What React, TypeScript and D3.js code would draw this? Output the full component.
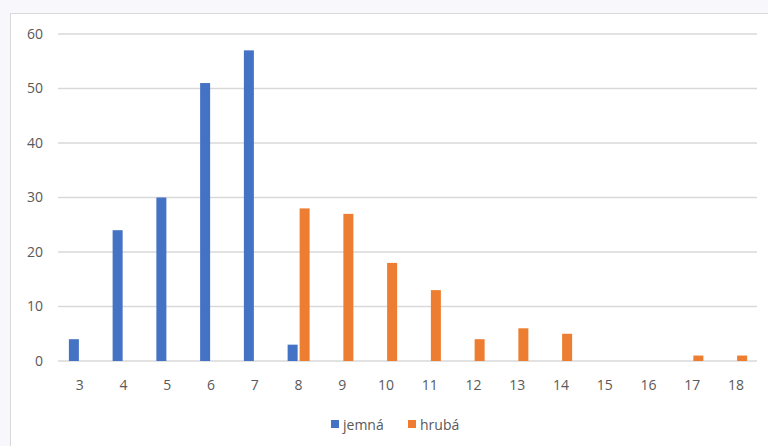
import React from "react";
import * as d3 from "d3";

const categories = ["3","4","5","6","7","8","9","10","11","12","13","14","15","16","17","18"];
const jemna = [4,24,30,51,57,3,0,0,0,0,0,0,0,0,0,0];
const hruba = [0,0,0,0,0,28,27,18,13,4,6,5,0,0,1,1];
const yTicks = [0,10,20,30,40,50,60];
const seriesNames = ["jemná","hrubá"];
const colors = ["#4472C4","#ED7D31"];

export default function App() {
  const W = 768, H = 446;
  const x = d3.scaleBand().domain(categories).range([58, 758]);
  const y = d3.scaleLinear().domain([0, 60]).range([361, 34]);
  const bw = 10, gap = 2;
  const series = [jemna, hruba];
  const font = "'Open Sans', 'Liberation Sans', sans-serif";
  return (
    <svg width={W} height={H} style={{ position: "absolute", left: 0, top: 0 }}>
      <rect x={0} y={0} width={W} height={H} fill="#f7f7fc" />
      <rect x={10.5} y={13.5} width={W + 10} height={H + 10} fill="#ffffff" stroke="#d9d9d9" strokeWidth={1} />
      {yTicks.map(t => (
        <g key={t}>
          <line x1={58} x2={757} y1={y(t)} y2={y(t)} stroke="#d9d9d9" strokeWidth={1.3} />
          <text x={43} y={y(t)} dy="0.35em" textAnchor="end" fontSize={14} fill="#595959" fontFamily={font}>{t}</text>
        </g>
      ))}
      {series.map((s, si) => s.map((v, i) => {
        const c = x(categories[i])! + x.bandwidth() / 2;
        const bx = si === 0 ? c - gap / 2 - bw : c + gap / 2;
        return v > 0 ? (
          <rect key={si + "-" + i} x={bx} y={y(v)} width={bw} height={y(0) - y(v)} fill={colors[si]} />
        ) : null;
      }))}
      {categories.map(c => (
        <text key={c} x={x(c)! + x.bandwidth() / 2} y={385} dy="0.35em" textAnchor="middle" fontSize={14} fill="#595959" fontFamily={font}>{c}</text>
      ))}
      {seriesNames.map((n, i) => {
        const lx = [331, 408][i];
        return (
          <g key={n}>
            <rect x={lx} y={420} width={8} height={8} fill={colors[i]} />
            <text x={lx + 12} y={425} dy="0.35em" fontSize={14} fill="#595959" fontFamily={font}>{n}</text>
          </g>
        );
      })}
    </svg>
  );
}
